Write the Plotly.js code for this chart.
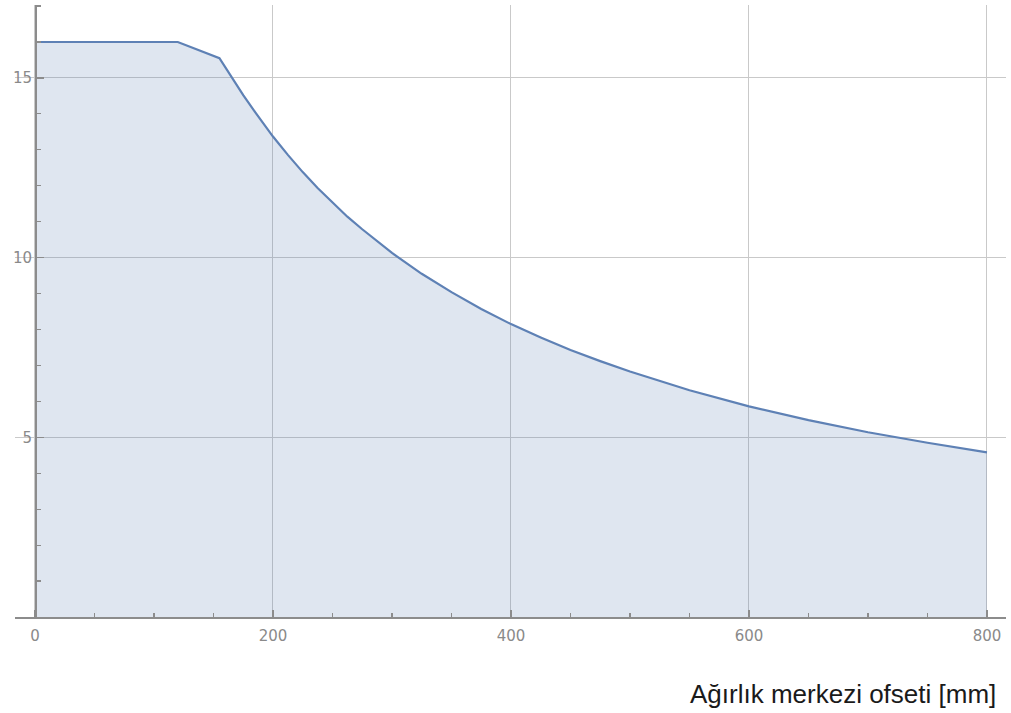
<!DOCTYPE html>
<html>
<head>
<meta charset="utf-8">
<script src="https://cdn.plot.ly/plotly-3.0.1.min.js"></script>
<style>html,body{margin:0;padding:0;background:#fff;}#chart{width:1011px;height:713px;}</style>
</head>
<body>
<div id="chart"></div>
<script>
// Data
const offsetMm = [0, 120, 155, 165, 175, 185, 200, 212.5, 225, 237.5, 250, 262.5, 275, 287.5, 300, 325, 350, 375, 400, 425, 450, 475, 500, 550, 600, 650, 700, 750, 800];
const loadKg   = [16, 16, 15.55, 15.04, 14.52, 14.05, 13.37, 12.86, 12.38, 11.94, 11.53, 11.14, 10.79, 10.45, 10.13, 9.55, 9.04, 8.57, 8.15, 7.78, 7.43, 7.12, 6.83, 6.31, 5.86, 5.48, 5.14, 4.85, 4.58];
const xTickVals = [0, 200, 400, 600, 800];
const xTickText = ['0', '200', '400', '600', '800'];
const yTickVals = [5, 10, 15];
const yTickText = ['5', '10', '15'];
const xTitle = 'Ağırlık merkezi ofseti [mm]';

const trace = {
  x: offsetMm,
  y: loadKg,
  type: 'scatter',
  mode: 'lines',
  line: {color: 'rgb(94,129,181)', width: 2.2, shape: 'linear'},
  fill: 'tozeroy',
  fillcolor: 'rgba(94,129,181,0.2)',
  hoverinfo: 'skip'
};

const tickFont = {family: 'DejaVu Sans', size: 15, color: '#8a8a8a'};

const layout = {
  width: 1011,
  height: 713,
  margin: {l: 15, r: 5, t: 5, b: 96},
  paper_bgcolor: '#ffffff',
  plot_bgcolor: '#ffffff',
  showlegend: false,
  xaxis: {
    range: [-16.8, 816],
    showgrid: true,
    gridcolor: '#c9c9c9',
    gridwidth: 1,
    zeroline: false,
    showline: true,
    linecolor: '#8c8c8c',
    linewidth: 1.5,
    tickmode: 'array',
    tickvals: xTickVals,
    ticktext: xTickText,
    ticks: 'inside',
    ticklen: 7,
    tickwidth: 1.2,
    tickcolor: '#8c8c8c',
    tickfont: tickFont,
    ticklabelstandoff: 4,
    minor: {dtick: 50, tick0: 0, ticks: 'inside', ticklen: 4, tickwidth: 1.2, tickcolor: '#8c8c8c', showgrid: false},
    fixedrange: true
  },
  yaxis: {
    range: [0, 17.03],
    anchor: 'free',
    position: 20 / 991,
    showgrid: true,
    gridcolor: '#c9c9c9',
    gridwidth: 1,
    zeroline: false,
    showline: true,
    linecolor: '#8c8c8c',
    linewidth: 1.5,
    tickmode: 'array',
    tickvals: yTickVals,
    ticktext: yTickText,
    ticks: 'inside',
    ticklen: 7,
    tickwidth: 1.2,
    tickcolor: '#8c8c8c',
    tickfont: tickFont,
    minor: {dtick: 1, tick0: 0, ticks: 'inside', ticklen: 4, tickwidth: 1.2, tickcolor: '#8c8c8c', showgrid: false},
    fixedrange: true
  },
  annotations: [{
    text: xTitle,
    xref: 'paper', yref: 'paper',
    x: (998 - 15) / 991, y: (617 - 694) / 612,
    xanchor: 'right', yanchor: 'middle',
    showarrow: false,
    font: {family: 'Liberation Sans', size: 26, color: '#1a1a1a'}
  }]
};

Plotly.newPlot('chart', [trace], layout, {displayModeBar: false, staticPlot: true});
</script>
</body>
</html>
